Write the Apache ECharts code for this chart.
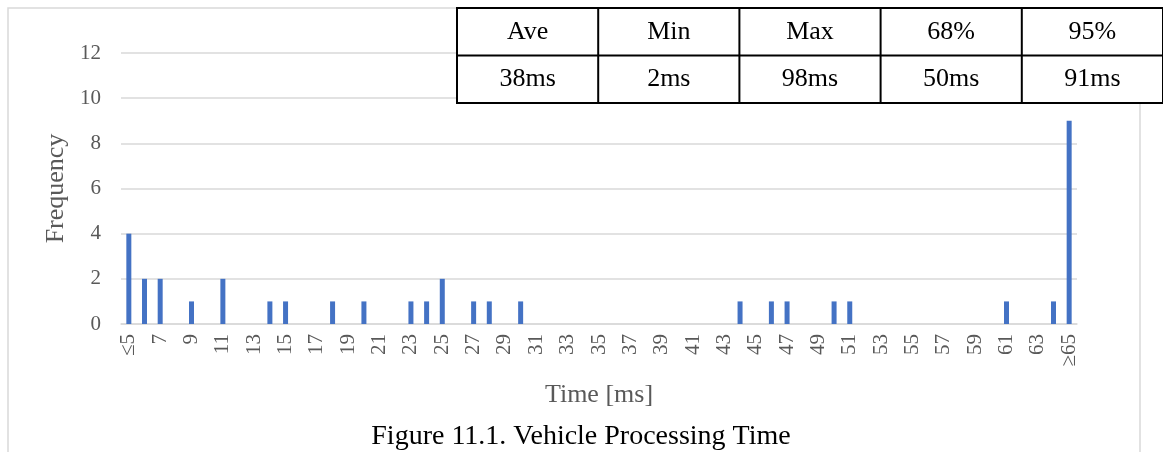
<!DOCTYPE html>
<html>
<head>
<meta charset="utf-8">
<script src="https://cdn.jsdelivr.net/npm/echarts@6/dist/echarts.min.js"></script>
<style>
  html, body { margin: 0; padding: 0; background: #fff; }
  #chart { width: 1163px; height: 452px; }
</style>
</head>
<body>
<div id="chart"></div>
<script>
// Histogram bins (ms): "≤5", 6 … 64, "≥65"
const categories = ['≤5'];
for (let t = 6; t <= 64; t++) categories.push(String(t));
categories.push('≥65');

// Counts per bin, listed by bin label
const binCounts = {
  '≤5': 4, '6': 2, '7': 2, '9': 1, '11': 2, '14': 1, '15': 1, '18': 1,
  '20': 1, '23': 1, '24': 1, '25': 2, '27': 1, '28': 1, '30': 1,
  '44': 1, '46': 1, '47': 1, '50': 1, '51': 1, '61': 1, '64': 1, '≥65': 9
};
const frequency = categories.map(c => binCounts[c] || 0);

// Summary table
const statHeaders = ['Ave', 'Min', 'Max', '68%', '95%'];
const statValues = ['38ms', '2ms', '98ms', '50ms', '91ms'];

const serif = '"Liberation Serif", "Times New Roman", serif';
const gray = '#595959';
const lineGray = '#d9d9d9';

// Table layout
const tblX = 457, tblY = 8, colW = 141.2, rowH = 47.5;
const tableGraphics = [];
tableGraphics.push({
  type: 'rect', z: 10,
  shape: { x: tblX, y: tblY, width: colW * statHeaders.length, height: rowH * 2 },
  style: { fill: '#fff', stroke: '#000', lineWidth: 2 }
});
tableGraphics.push({
  type: 'line', z: 11,
  shape: { x1: tblX, y1: tblY + rowH, x2: tblX + colW * statHeaders.length, y2: tblY + rowH },
  style: { stroke: '#000', lineWidth: 2 }
});
for (let i = 1; i < statHeaders.length; i++) {
  tableGraphics.push({
    type: 'line', z: 11,
    shape: { x1: tblX + colW * i, y1: tblY, x2: tblX + colW * i, y2: tblY + rowH * 2 },
    style: { stroke: '#000', lineWidth: 2 }
  });
}
[statHeaders, statValues].forEach((row, r) => {
  row.forEach((txt, i) => {
    tableGraphics.push({
      type: 'text', z: 12,
      x: tblX + colW * (i + 0.5), y: tblY + rowH * (r + 0.5),
      style: { text: txt, font: '26px ' + serif, fill: '#000', align: 'center', verticalAlign: 'middle' }
    });
  });
});

const chart = echarts.init(document.getElementById('chart'), null, { renderer: 'canvas' });
chart.setOption({
  animation: false,
  backgroundColor: '#fff',
  grid: { left: 121, right: 86, top: 53, bottom: 128, containLabel: false },
  xAxis: {
    type: 'category',
    data: categories,
    name: 'Time [ms]',
    nameLocation: 'middle',
    nameGap: 58,
    nameTextStyle: { fontFamily: serif, fontSize: 26, color: gray },
    axisLine: { lineStyle: { color: lineGray, width: 1.5 } },
    axisTick: { show: false },
    axisLabel: {
      interval: 1, rotate: 90, margin: 10,
      fontFamily: serif, fontSize: 21, color: gray
    }
  },
  yAxis: {
    type: 'value',
    min: 0, max: 12, interval: 2,
    name: 'Frequency',
    nameLocation: 'middle',
    nameGap: 51,
    nameTextStyle: { fontFamily: serif, fontSize: 26, color: gray },
    axisLine: { show: false },
    axisTick: { show: false },
    axisLabel: { fontFamily: serif, fontSize: 21, color: gray, margin: 20 },
    splitLine: { lineStyle: { color: lineGray, width: 1.5 } }
  },
  series: [{
    type: 'bar',
    data: frequency,
    barWidth: 5,
    itemStyle: { color: '#4472C4' }
  }],
  graphic: [
    {
      type: 'rect', z: 0, silent: true,
      shape: { x: 8, y: 8, width: 1132, height: 470 },
      style: { fill: 'none', stroke: lineGray, lineWidth: 1.5 }
    },
    {
      type: 'text', z: 5,
      x: 581, y: 437,
      style: {
        text: 'Figure 11.1. Vehicle Processing Time',
        font: '28px ' + serif, fill: '#000', align: 'center', verticalAlign: 'middle'
      }
    }
  ].concat(tableGraphics)
});
</script>
</body>
</html>
